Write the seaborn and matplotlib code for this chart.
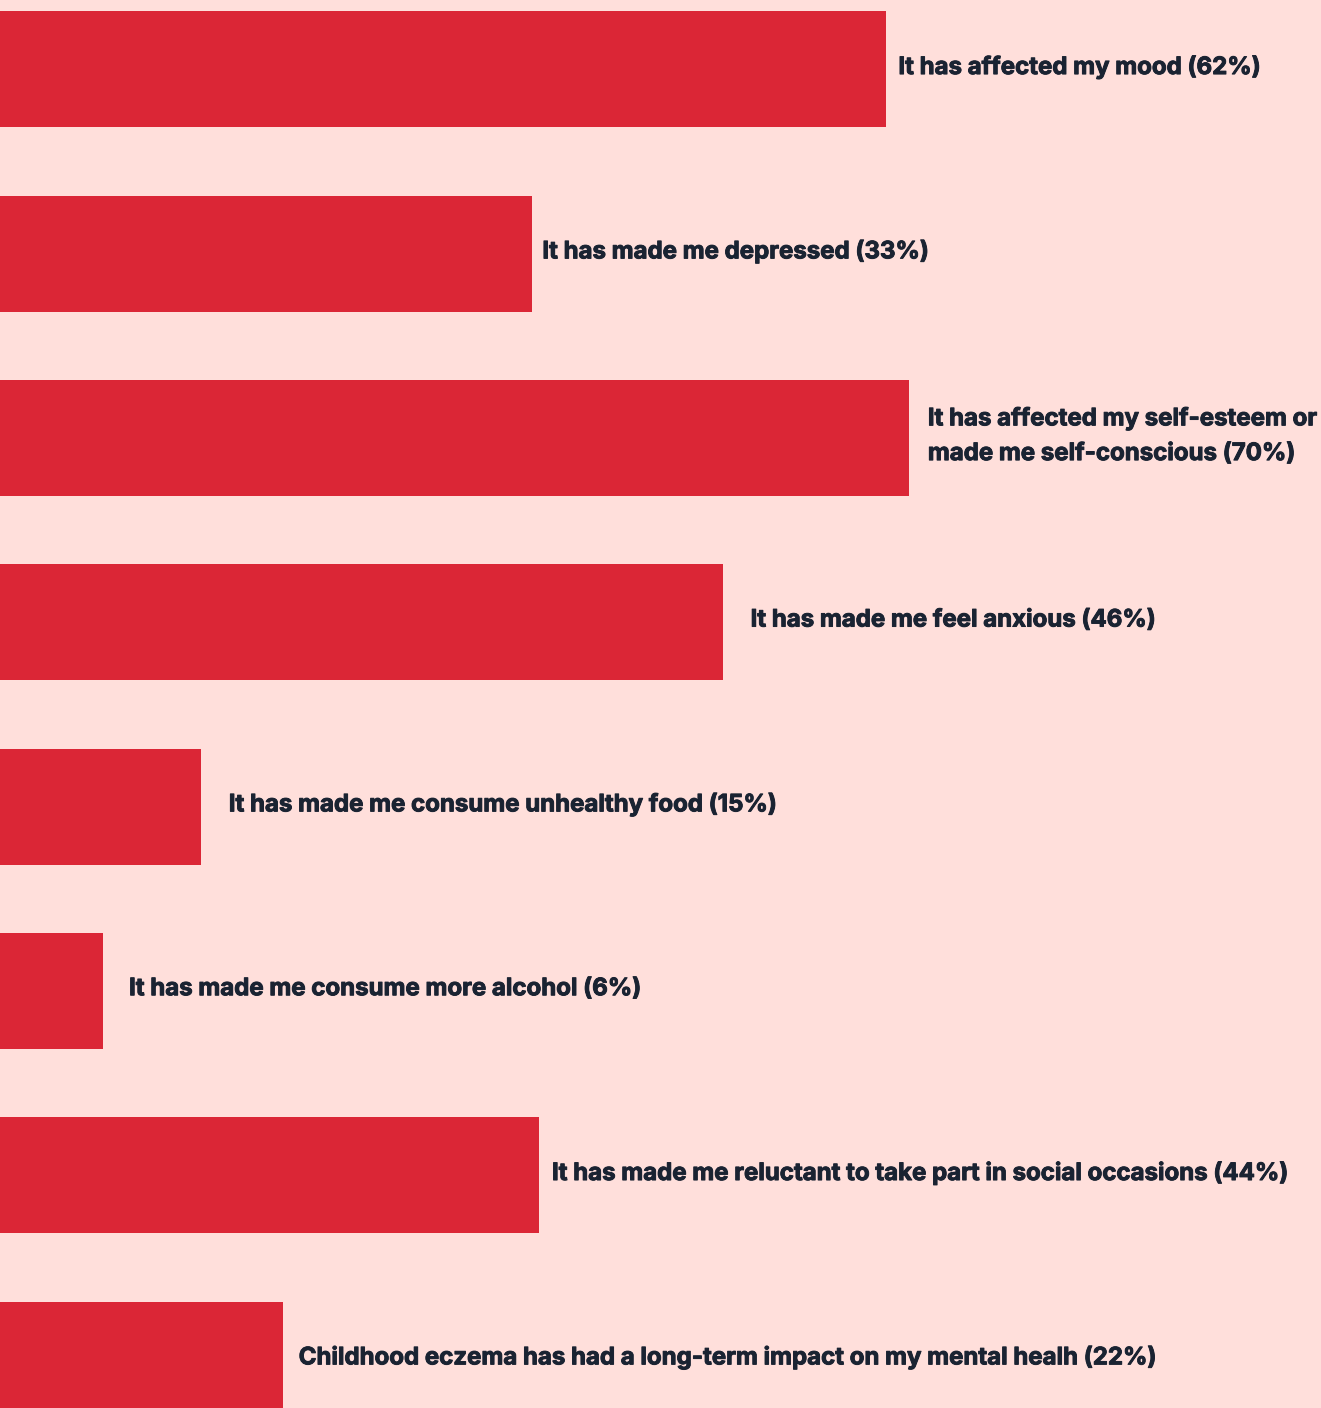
import matplotlib
matplotlib.use("Agg")
import matplotlib.pyplot as plt
import matplotlib.patheffects as pe
import seaborn as sns
import pandas as pd

# ---- data ----
labels = [
    "It has affected my mood (62%)",
    "It has made me depressed (33%)",
    "It has affected my self-esteem or\nmade me self-conscious (70%)",
    "It has made me feel anxious (46%)",
    "It has made me consume unhealthy food (15%)",
    "It has made me consume more alcohol (6%)",
    "It has made me reluctant to take part in social occasions (44%)",
    "Childhood eczema has had a long-term impact on my mental healh (22%)",
]
percent = [62, 33, 70, 46, 15, 6, 44, 22]
# drawn bar lengths as they appear in the graphic (share of the full width, %)
bar_length = [67.1, 40.3, 68.8, 54.7, 15.2, 7.8, 40.8, 21.4]

# ---- layout/style constants ----
label_gap = [12, 10, 19, 28, 28, 26, 13, 16]  # px between bar end and label
BG = "#FFDFDB"
BAR = "#DB2636"
TXT = "#1A2332"

df = pd.DataFrame({"label": labels, "pct": percent, "length": bar_length})

sns.set_theme(style="white")
plt.rcParams["font.family"] = ["Inter", "DejaVu Sans"]

W, H = 1321, 1408
fig = plt.figure(figsize=(W / 100, H / 100), dpi=100, facecolor=BG)
ax = fig.add_axes([0, 0, 1, 1])
ax.set_facecolor(BG)

sns.barplot(data=df, x="length", y=df.index.astype(str), color=BAR,
            width=0.63, saturation=1, ax=ax, orient="h", linewidth=0)

spacing = 184.33
first = 69.4
ax.set_xlim(0, 100)
ax.set_ylim((H - first) / spacing, -first / spacing)
ax.axis("off")

for i, row in df.iterrows():
    x_px = row["length"] / 100 * W + label_gap[i]
    ax.text(x_px / W * 100, i - 0.01, row["label"], ha="left", va="center",
            fontsize=17.3, fontweight="bold", color=TXT, linespacing=1.75,
            path_effects=[pe.withStroke(linewidth=0.7, foreground=TXT)])

fig.savefig("out.png", dpi=100, facecolor=BG)
